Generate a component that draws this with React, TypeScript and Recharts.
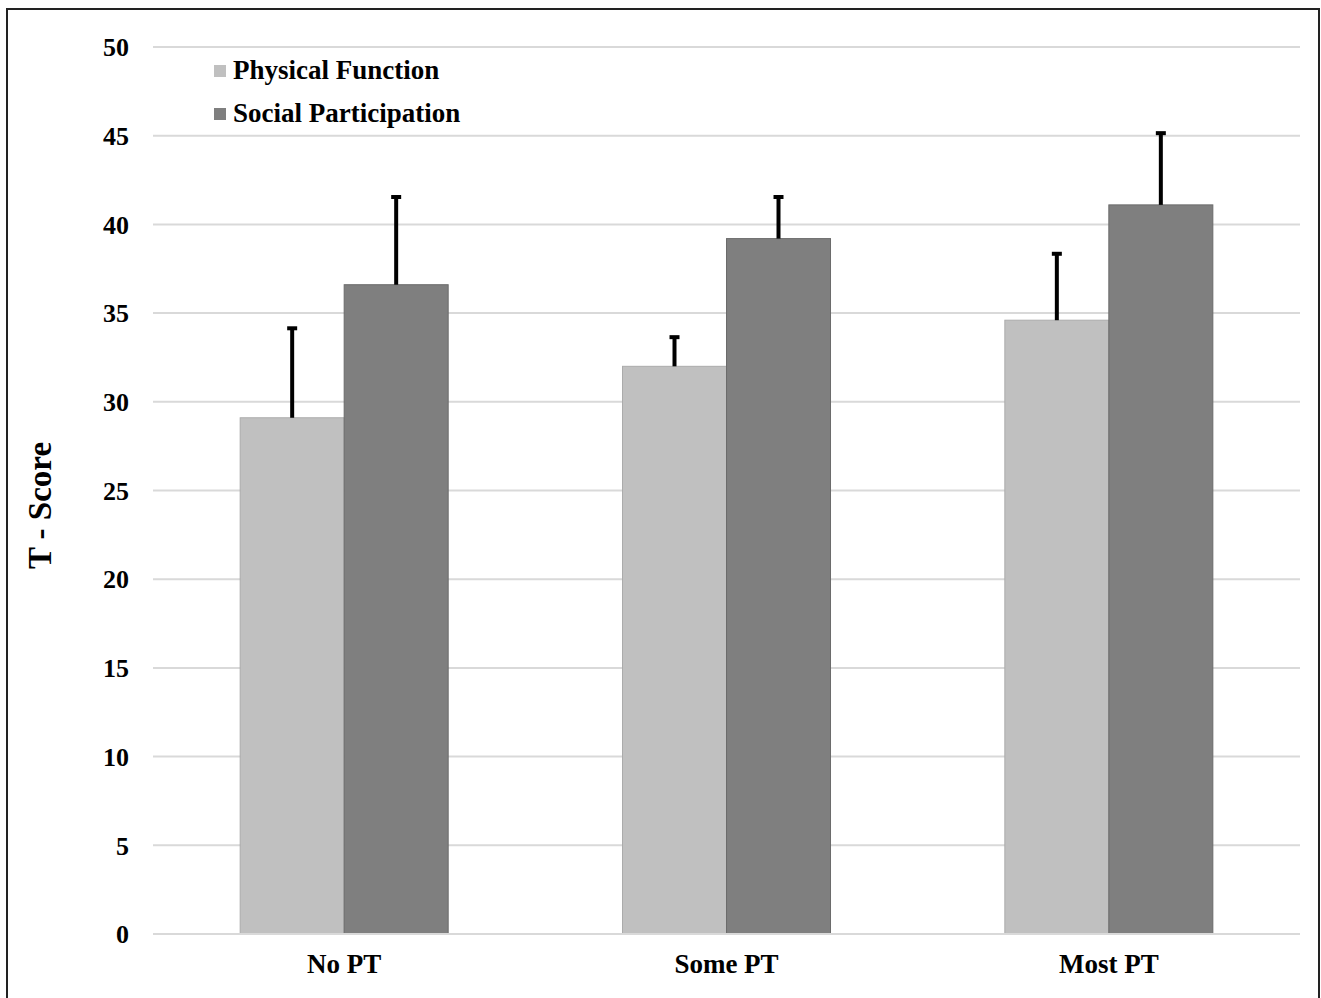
import { BarChart, Bar, XAxis, YAxis, CartesianGrid, Legend } from 'recharts';

const categories = ['No PT', 'Some PT', 'Most PT'];
const physicalFunction = [29.1, 32.0, 34.6];
const physicalFunctionErr = [5.1, 1.7, 3.8];
const socialParticipation = [36.6, 39.2, 41.1];
const socialParticipationErr = [5.0, 2.4, 4.1];
const yTicks = [0, 5, 10, 15, 20, 25, 30, 35, 40, 45, 50];

const data = categories.map((name, i) => ({
  name,
  pf: physicalFunction[i],
  pfErr: physicalFunctionErr[i],
  sp: socialParticipation[i],
  spErr: socialParticipationErr[i],
}));

const font = '"Liberation Serif", "Times New Roman", serif';

const series = [
  { key: 'pf', errKey: 'pfErr', name: 'Physical Function', fill: '#c0c0c0', stroke: '#ababab' },
  { key: 'sp', errKey: 'spErr', name: 'Social Participation', fill: '#7f7f7f', stroke: '#6b6b6b' },
];

// bar plus an upper-only error whisker, scaled from the bar's own pixel height
function barWithError(key: string, errKey: string, stroke: string) {
  return (props: any) => {
    const { x, y, width, height, fill, payload } = props;
    const value = payload[key];
    const err = payload[errKey];
    const perUnit = value ? height / value : 0;
    const cx = x + width / 2;
    const top = y - err * perUnit;
    return (
      <g>
        <rect x={x} y={y} width={width} height={height} fill={fill} stroke={stroke} strokeWidth={1} />
        <line x1={cx} x2={cx} y1={y} y2={top} stroke="#000" strokeWidth={4} />
        <line x1={cx - 5} x2={cx + 5} y1={top + 1} y2={top + 1} stroke="#000" strokeWidth={4} />
      </g>
    );
  };
}

function LegendBox() {
  return (
    <div style={{ fontFamily: font, fontWeight: 'bold', fontSize: 27, color: '#000' }}>
      {series.map((s) => (
        <div key={s.key} style={{ display: 'flex', alignItems: 'center', height: 43 }}>
          <span style={{ width: 12, height: 12, background: s.fill, marginRight: 7, display: 'inline-block' }} />
          <span>{s.name}</span>
        </div>
      ))}
    </div>
  );
}

function YLabel(props: any) {
  const { viewBox } = props;
  const x = viewBox.x + 40;
  const y = viewBox.y + viewBox.height / 2 + 15;
  return (
    <text
      x={x}
      y={y}
      transform={`rotate(-90, ${x}, ${y})`}
      textAnchor="middle"
      dominantBaseline="central"
      fontFamily={font}
      fontWeight="bold"
      fontSize={33}
      fill="#000"
    >
      T - Score
    </text>
  );
}

export default function App() {
  return (
    <div style={{ position: 'absolute', left: 0, top: 0, width: 1321, height: 998, background: '#fff', overflow: 'hidden' }}>
      <div
        style={{
          position: 'absolute',
          left: 6,
          top: 8,
          width: 1310,
          height: 1000,
          border: '2px solid #222',
        }}
      />
      <div style={{ position: 'absolute', left: 0, top: 0 }}>
        <BarChart
          width={1321}
          height={998}
          data={data}
          margin={{ top: 47, right: 21, bottom: 34, left: 0 }}
          barCategoryGap="22.8%"
          barGap={0}
        >
          <CartesianGrid vertical={false} stroke="#d9d9d9" strokeWidth={2} />
          <XAxis
            dataKey="name"
            height={30}
            axisLine={{ stroke: '#d9d9d9', strokeWidth: 2 }}
            tickLine={false}
            tickSize={0}
            tickMargin={20}
            tick={{ fontFamily: font, fontWeight: 'bold', fontSize: 27, fill: '#000' }}
          />
          <YAxis
            width={153}
            domain={[0, 50]}
            ticks={yTicks}
            axisLine={false}
            tickLine={false}
            tickSize={0}
            tickMargin={24}
            tick={{ fontFamily: font, fontWeight: 'bold', fontSize: 26, fill: '#000' }}
            label={{ content: YLabel }}
          />
          <Legend
            layout="vertical"
            verticalAlign="middle"
            align="center"
            content={<LegendBox />}
            wrapperStyle={{ position: 'absolute', left: 214, top: 49, width: 'auto' }}
          />
          {series.map((s) => (
            <Bar
              key={s.key}
              dataKey={s.key}
              name={s.name}
              fill={s.fill}
              isAnimationActive={false}
              shape={barWithError(s.key, s.errKey, s.stroke)}
            />
          ))}
        </BarChart>
      </div>
    </div>
  );
}
